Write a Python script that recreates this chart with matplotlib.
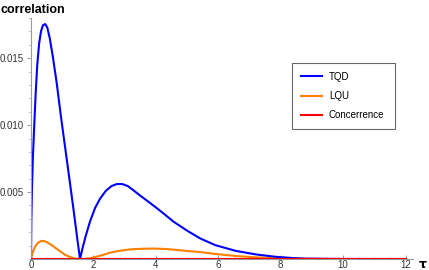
import matplotlib
matplotlib.use("Agg")
import matplotlib.pyplot as plt
from matplotlib.ticker import MultipleLocator

# values
tau_tqd = [0, 0.01, 0.03, 0.06, 0.1, 0.15, 0.2, 0.26, 0.32, 0.38, 0.45, 0.52,
           0.6, 0.7, 0.82, 0.95, 1.06, 1.2, 1.35, 1.5, 1.571, 1.65, 1.75, 1.89,
           2.05, 2.21, 2.4, 2.58, 2.75, 2.92, 3.1, 3.3, 3.49, 3.75, 4.03, 4.3,
           4.56, 5.0, 5.42, 5.9, 6.54, 7.18, 7.82, 8.4, 8.78, 9.5, 10.5, 12]
tqd = [0, 0.0028, 0.0052, 0.0076, 0.0098, 0.0124, 0.0145, 0.0161, 0.0170,
       0.01745, 0.01755, 0.0173, 0.0165, 0.0151, 0.0132, 0.0108, 0.0089,
       0.0065, 0.0039, 0.0012, 0, 0.0008, 0.0017, 0.0028, 0.0038, 0.0045,
       0.0051, 0.00545, 0.0056, 0.0056, 0.00545, 0.0051, 0.00475, 0.0043,
       0.0038, 0.0033, 0.0028, 0.00212, 0.00154, 0.00104, 0.00062, 0.00035,
       0.00017, 0.00007, 0.00003, 0.00001, 0, 0]

tau_lqu = [0, 0.05, 0.13, 0.22, 0.34, 0.45, 0.55, 0.66, 0.8, 0.98, 1.1, 1.25,
           1.4, 1.55, 1.7, 1.89, 2.1, 2.3, 2.53, 2.8, 3.17, 3.5, 3.92, 4.3,
           4.67, 5.0, 5.42, 5.9, 6.54, 7.18, 7.82, 8.5, 9.2, 10, 12]
lqu = [0, 0.0005, 0.00092, 0.00122, 0.00136, 0.00132, 0.0012, 0.00104, 0.0008,
       0.0005, 0.0003, 0.00015, 0.00004, 0.0, 0.00001, 0.00005, 0.00017,
       0.0003, 0.00047, 0.0006, 0.00072, 0.00076, 0.00078, 0.00075, 0.00068,
       0.0006, 0.00052, 0.00038, 0.00023, 0.00013, 0.00006, 0.00002, 0.00001,
       0, 0]

tau_conc = [0, 12]
conc = [0, 0]

plt.rcParams['font.family'] = 'Liberation Sans'

fig = plt.figure(figsize=(4.29, 2.70), dpi=100)
ax = fig.add_axes([0.0723, 0.0407, 0.8904, 0.8926])

ax.plot(tau_conc, conc, color=(1, 0, 0), lw=1.5, label="Concerrence", zorder=3)
ax.plot(tau_lqu, lqu, color=(1, 0.5, 0), lw=1.5, label="LQU", zorder=2)
ax.plot(tau_tqd, tqd, color=(0, 0, 1), lw=1.5, label="TQD", zorder=2)

ax.set_xlim(0, 12.24)
ax.set_ylim(0, 0.018)
for s in ["top", "right"]:
    ax.spines[s].set_visible(False)
for s in ["left", "bottom"]:
    ax.spines[s].set_color("#999999")
    ax.spines[s].set_linewidth(0.8)

ax.xaxis.set_major_locator(MultipleLocator(2))
ax.xaxis.set_minor_locator(MultipleLocator(0.5))
ax.yaxis.set_minor_locator(MultipleLocator(0.001))
ax.set_yticks([0.005, 0.010, 0.015])
ax.set_yticklabels(["0.005", "0.010", "0.015"])
ax.tick_params(axis="x", which="both", direction="in", color="#999999",
               labelsize=7, labelcolor="#333333", pad=1)
ax.tick_params(axis="y", which="both", direction="out", color="#999999",
               labelsize=7, labelcolor="#333333", pad=2)
ax.tick_params(which="major", length=3, width=0.7)
ax.tick_params(which="minor", length=1.8, width=0.6)

fig.text(0.002, 0.962, "correlation", fontsize=9, fontweight="bold",
         va="center", ha="left")
fig.text(0.986, 0.022, "τ", fontsize=9, fontweight="bold",
         va="center", ha="center", family="DejaVu Sans")

h, l = ax.get_legend_handles_labels()
order = [2, 1, 0]
leg = ax.legend([h[i] for i in order], [l[i] for i in order],
                loc="upper left", bbox_to_anchor=(0.683, 0.531, 0.27, 0.282),
                mode="expand", fontsize=7, frameon=True, fancybox=False,
                borderaxespad=0, borderpad=0.9, labelspacing=0.95,
                handlelength=2.2, handletextpad=0.7)
leg.get_frame().set_edgecolor("#444444")
leg.get_frame().set_linewidth(0.8)

fig.savefig("out.png", dpi=100)
